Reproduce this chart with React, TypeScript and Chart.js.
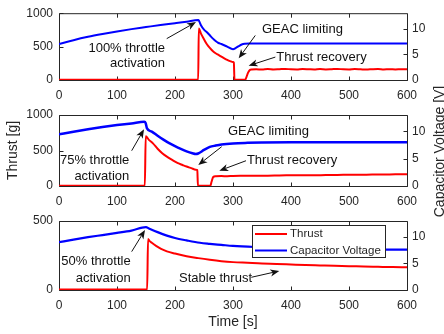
import React, { useEffect, useRef } from 'react';
import { Chart, registerables } from 'chart.js';

Chart.register(...registerables);

type Pt = [number, number];

// ---- axis ranges & labels ----
const TIME_RANGE: Pt = [0, 600];
const TIME_STEP = 100;
const VOLT_RANGE: Pt = [0, 13];
const VOLT_STEP = 5;
const THRUST_STEP = 500;
const SERIES_NAMES = ['Thrust', 'Capacitor Voltage'];
const X_TITLE = 'Time [s]';
const Y_TITLE = 'Thrust [g]';
const Y2_TITLE = 'Capacitor Voltage [V]';

// ---- 100 % throttle run: [time s, thrust g] / [time s, voltage V] ----
const thrust100: Pt[] = [
  [0, 4], [60, 4], [120, 5], [180, 4], [240, 5], [241, 772], [245, 690], [250, 610], [255, 535],
  [260, 480], [265, 435], [270, 400], [275, 375], [280, 350], [285, 325], [290, 302], [295, 283],
  [300, 268], [301.5, 262], [302.5, 3], [321, 3], [323, 40], [326, 110], [329, 150], [332, 158],
  [340, 160], [350, 157], [360, 163], [370, 158], [380, 162], [390, 166], [400, 160], [410, 158],
  [420, 164], [430, 161], [440, 157], [450, 163], [460, 159], [470, 162], [480, 166], [490, 160],
  [500, 158], [510, 163], [520, 160], [530, 157], [540, 162], [550, 165], [560, 159], [570, 161],
  [580, 158], [590, 162], [600, 160],
];
const volt100: Pt[] = [
  [0, 7.0], [25, 7.75], [50, 8.4], [75, 8.95], [100, 9.45], [125, 9.9], [150, 10.3], [175, 10.7],
  [200, 11.05], [220, 11.35], [240, 11.7], [241.5, 11.5], [245, 10.6], [250, 9.8], [255, 9.3],
  [260, 8.7], [265, 8.1], [270, 7.6], [275, 7.2], [280, 7.0], [290, 6.5], [300, 6.0], [305, 6.25],
  [310, 6.6], [315, 6.9], [320, 7.05], [330, 7.1], [360, 7.12], [400, 7.1], [450, 7.12],
  [500, 7.1], [550, 7.12], [600, 7.1],
];

// ---- 75 % throttle run ----
const thrust75: Pt[] = [
  [0, 3], [50, 4], [100, 3], [148, 4], [149.5, 700], [155, 650], [162, 600], [170, 525], [178, 462],
  [186, 413], [195, 368], [205, 322], [213, 296], [220, 274], [228, 252], [236, 230], [238.5, 224],
  [239.5, 3], [261, 3], [263, 60], [266, 128], [270, 136], [280, 140], [290, 138], [300, 142],
  [320, 143], [340, 146], [360, 145], [380, 149], [400, 150], [420, 152], [440, 151], [460, 155],
  [480, 156], [500, 158], [520, 159], [540, 161], [560, 162], [580, 164], [600, 165],
];
const volt75: Pt[] = [
  [0, 9.45], [25, 9.95], [50, 10.4], [75, 10.8], [100, 11.15], [125, 11.45], [147, 11.75],
  [149.5, 11.5], [151.5, 10.6], [160, 9.95], [170, 9.2], [180, 8.5], [190, 7.85], [200, 7.3],
  [210, 6.8], [220, 6.35], [230, 6.0], [236, 5.85], [240, 5.95], [250, 6.6], [260, 7.15],
  [270, 7.4], [280, 7.6], [300, 7.8], [325, 7.9], [350, 7.95], [400, 8.0], [450, 8.0],
  [500, 8.02], [550, 8.0], [600, 8.02],
];

// ---- 50 % throttle run ----
const thrust50: Pt[] = [
  [0, 3], [50, 4], [100, 4], [152, 4], [153.5, 370], [156, 356], [160, 342], [168, 318], [176, 298],
  [186, 280], [200, 264], [220, 245], [240, 231], [260, 219], [280, 209], [300, 202], [325, 197],
  [350, 192], [375, 189], [400, 185], [425, 181], [450, 178], [475, 175], [500, 173], [525, 170],
  [550, 168], [575, 166], [600, 165],
];
const volt50: Pt[] = [
  [0, 9.0], [25, 9.5], [50, 9.95], [75, 10.35], [100, 10.75], [125, 11.2], [150, 11.85],
  [155, 11.6], [170, 10.9], [186, 10.25], [200, 9.8], [220, 9.35], [243, 8.9], [260, 8.7],
  [280, 8.5], [300, 8.3], [350, 8.05], [400, 7.85], [450, 7.72], [500, 7.65], [550, 7.6], [600, 7.6],
];

// ---- callouts, placed in (time, thrust) coordinates ----
type Label = { text: string; at: Pt; align: CanvasTextAlign };
type Arrow = { from: Pt; to: Pt };

const labels100: Label[] = [
  { text: '100% throttle', at: [182.8, 476], align: 'right' },
  { text: 'activation', at: [182.8, 247], align: 'right' },
  { text: 'GEAC limiting', at: [350, 761], align: 'left' },
  { text: 'Thrust recovery', at: [374.7, 343], align: 'left' },
];
const arrows100: Arrow[] = [
  { from: [185.7, 619], to: [236.2, 867] },
  { from: [338.4, 667], to: [309.8, 324] },
  { from: [373, 343], to: [327, 214] },
];
const labels75: Label[] = [
  { text: '75% throttle', at: [121.2, 366], align: 'right' },
  { text: 'activation', at: [121.2, 131], align: 'right' },
  { text: 'GEAC limiting', at: [291.4, 765], align: 'left' },
  { text: 'Thrust recovery', at: [324, 366], align: 'left' },
];
const arrows75: Arrow[] = [
  { from: [125.3, 497], to: [146.6, 799] },
  { from: [280.5, 554], to: [240.2, 296] },
  { from: [322.4, 356], to: [276.4, 215] },
];
const labels50: Label[] = [
  { text: '50% throttle', at: [123.6, 205], align: 'right' },
  { text: 'activation', at: [123.6, 85], align: 'right' },
  { text: 'Stable thrust', at: [206.9, 85], align: 'left' },
];
const arrows50: Arrow[] = [
  { from: [125.3, 278], to: [148.3, 435] },
  { from: [331.6, 92], to: [379.8, 138] },
];

// ---- look ----
const W = 444;
const H = 334;
const FONT = "'Liberation Sans', Arial, Helvetica, sans-serif";
const INK = '#262626';
const RED = '#ff0000';
const BLUE = '#0000ff';
const PLOT_LEFT = 59;
const PLOT_RIGHT = 407;

type Panel = {
  thrust: Pt[];
  volt: Pt[];
  thrustMax: number;
  top: number;
  bottom: number;
  labels: Label[];
  arrows: Arrow[];
  yTitle?: boolean;
  xTitle?: boolean;
  legend?: boolean;
  voltWidth: number;
};

const panels: Panel[] = [
  { thrust: thrust100, volt: volt100, thrustMax: 1000, top: 10, bottom: 80, labels: labels100, arrows: arrows100, voltWidth: 2 },
  { thrust: thrust75, volt: volt75, thrustMax: 1000, top: 115, bottom: 186, labels: labels75, arrows: arrows75, yTitle: true, voltWidth: 2.5 },
  { thrust: thrust50, volt: volt50, thrustMax: 500, top: 221, bottom: 290, labels: labels50, arrows: arrows50, xTitle: true, legend: true, voltWidth: 2.2 },
];

const toXY = (pts: Pt[]) => pts.map(([x, y]) => ({ x, y }));
const plainNumber = (v: any) => String(v);

function drawArrow(ctx: CanvasRenderingContext2D, x1: number, y1: number, x2: number, y2: number) {
  const dx = x2 - x1;
  const dy = y2 - y1;
  const len = Math.hypot(dx, dy) || 1;
  const ux = dx / len;
  const uy = dy / len;
  const nx = -uy;
  const ny = ux;
  const headLen = 9;
  const headHalf = 3.6;
  const notch = 6.5;
  ctx.beginPath();
  ctx.moveTo(x1, y1);
  ctx.lineTo(x2 - ux * notch, y2 - uy * notch);
  ctx.stroke();
  ctx.beginPath();
  ctx.moveTo(x2, y2);
  ctx.lineTo(x2 - ux * headLen + nx * headHalf, y2 - uy * headLen + ny * headHalf);
  ctx.lineTo(x2 - ux * notch, y2 - uy * notch);
  ctx.lineTo(x2 - ux * headLen - nx * headHalf, y2 - uy * headLen - ny * headHalf);
  ctx.closePath();
  ctx.fill();
}

// Box frame with inward ticks on all four sides, drawn under the data lines.
const frameTicks = {
  id: 'frameTicks',
  beforeDatasetsDraw(chart: any) {
    const { ctx, chartArea: a, scales } = chart;
    const L = a.left + 0.5;
    const R = a.right + 0.5;
    const T = a.top + 0.5;
    const B = a.bottom + 0.5;
    const len = 4;
    ctx.save();
    ctx.strokeStyle = INK;
    ctx.lineWidth = 1;
    ctx.beginPath();
    ctx.rect(L, T, R - L, B - T);
    scales.x.ticks.forEach((t: any) => {
      const px = Math.round(scales.x.getPixelForValue(t.value)) + 0.5;
      ctx.moveTo(px, B);
      ctx.lineTo(px, B - len);
      ctx.moveTo(px, T);
      ctx.lineTo(px, T + len);
    });
    scales.y.ticks.forEach((t: any) => {
      const py = Math.round(scales.y.getPixelForValue(t.value)) + 0.5;
      ctx.moveTo(L, py);
      ctx.lineTo(L + len, py);
    });
    scales.y1.ticks.forEach((t: any) => {
      const py = Math.round(scales.y1.getPixelForValue(t.value)) + 0.5;
      ctx.moveTo(R, py);
      ctx.lineTo(R - len, py);
    });
    ctx.stroke();
    ctx.restore();
  },
};

function makeOverlay(panel: Panel) {
  return {
    id: 'overlay',
    afterDraw(chart: any) {
      const { ctx, chartArea: a, scales } = chart;
      const sx = (v: number) => scales.x.getPixelForValue(v);
      const sy = (v: number) => scales.y.getPixelForValue(v);
      ctx.save();
      // callouts
      ctx.fillStyle = '#111';
      ctx.strokeStyle = '#111';
      ctx.lineWidth = 1;
      ctx.font = `13px ${FONT}`;
      ctx.textBaseline = 'middle';
      panel.labels.forEach((l) => {
        ctx.textAlign = l.align;
        ctx.fillText(l.text, sx(l.at[0]), sy(l.at[1]));
      });
      panel.arrows.forEach((ar) => {
        drawArrow(ctx, sx(ar.from[0]), sy(ar.from[1]), sx(ar.to[0]), sy(ar.to[1]));
      });
      // boxed legend in the upper right of the plot
      if (panel.legend) {
        const bw = 133;
        const bh = 32;
        const bx = a.right - 22 - bw;
        const by = a.top + 4;
        ctx.fillStyle = '#ffffff';
        ctx.fillRect(bx, by, bw, bh);
        ctx.strokeStyle = INK;
        ctx.lineWidth = 1;
        ctx.strokeRect(Math.round(bx) + 0.5, Math.round(by) + 0.5, bw, bh);
        const colors = [RED, BLUE];
        ctx.font = `11.5px ${FONT}`;
        ctx.textAlign = 'left';
        SERIES_NAMES.forEach((name, i) => {
          const yy = by + 9 + i * 16.5;
          ctx.strokeStyle = colors[i];
          ctx.lineWidth = 2;
          ctx.beginPath();
          ctx.moveTo(bx + 3, yy);
          ctx.lineTo(bx + 35, yy);
          ctx.stroke();
          ctx.fillStyle = INK;
          ctx.fillText(name, bx + 38, yy);
        });
      }
      // right-hand axis title, reading bottom to top
      if (panel.yTitle) {
        ctx.fillStyle = INK;
        ctx.font = `14px ${FONT}`;
        ctx.textAlign = 'center';
        ctx.textBaseline = 'alphabetic';
        ctx.translate(443.5, (a.top + a.bottom) / 2 + 1);
        ctx.rotate(-Math.PI / 2);
        ctx.fillText(Y2_TITLE, 0, 0);
      }
      ctx.restore();
    },
  };
}

function buildChart(canvas: HTMLCanvasElement, panel: Panel) {
  const padLeft = panel.yTitle ? 5 : 0;
  const xBottom = panel.xTitle ? 330.4 : panel.bottom + 30;
  const xHeight = xBottom - panel.bottom;
  const tickFont = { family: FONT, size: 12 };
  return new Chart(canvas, {
    type: 'line',
    data: {
      datasets: [
        {
          label: SERIES_NAMES[0],
          data: toXY(panel.thrust),
          yAxisID: 'y',
          borderColor: RED,
          backgroundColor: RED,
          borderWidth: 2,
          pointRadius: 0,
          cubicInterpolationMode: 'monotone',
          fill: false,
        },
        {
          label: SERIES_NAMES[1],
          data: toXY(panel.volt),
          yAxisID: 'y1',
          borderColor: BLUE,
          backgroundColor: BLUE,
          borderWidth: panel.voltWidth,
          pointRadius: 0,
          cubicInterpolationMode: 'monotone',
          fill: false,
        },
      ],
    },
    options: {
      responsive: false,
      animation: false,
      devicePixelRatio: 1,
      events: [],
      layout: {
        padding: { top: panel.top, bottom: H - xBottom, left: padLeft, right: 0 },
      },
      plugins: {
        legend: { display: false },
        tooltip: { enabled: false },
      },
      scales: {
        x: {
          type: 'linear',
          position: 'bottom',
          min: TIME_RANGE[0],
          max: TIME_RANGE[1],
          grid: { display: false, drawTicks: false },
          border: { display: false },
          ticks: { stepSize: TIME_STEP, padding: 8, color: INK, font: tickFont, maxRotation: 0, autoSkip: false, callback: plainNumber },
          title: {
            display: !!panel.xTitle,
            text: X_TITLE,
            color: INK,
            padding: 0,
            font: { family: FONT, size: 14 },
          },
          afterFit: (s: any) => {
            s.height = xHeight;
          },
        },
        y: {
          type: 'linear',
          position: 'left',
          min: 0,
          max: panel.thrustMax,
          grid: { display: false, drawTicks: false },
          border: { display: false },
          ticks: { stepSize: THRUST_STEP, padding: 6, color: INK, font: tickFont, callback: plainNumber },
          title: {
            display: !!panel.yTitle,
            text: Y_TITLE,
            color: INK,
            padding: 0,
            font: { family: FONT, size: 14 },
          },
          afterFit: (s: any) => {
            s.width = PLOT_LEFT - padLeft;
          },
        },
        y1: {
          type: 'linear',
          position: 'right',
          min: VOLT_RANGE[0],
          max: VOLT_RANGE[1],
          grid: { display: false, drawTicks: false },
          border: { display: false },
          ticks: { stepSize: VOLT_STEP, includeBounds: false, padding: 5, color: INK, font: tickFont, callback: plainNumber },
          afterFit: (s: any) => {
            s.width = W - PLOT_RIGHT;
          },
        },
      },
    } as any,
    plugins: [frameTicks, makeOverlay(panel)],
  });
}

export default function App() {
  const c1 = useRef<HTMLCanvasElement>(null);
  const c2 = useRef<HTMLCanvasElement>(null);
  const c3 = useRef<HTMLCanvasElement>(null);

  useEffect(() => {
    const refs = [c1, c2, c3];
    const charts = panels.map((p, i) => buildChart(refs[i].current as HTMLCanvasElement, p));
    return () => charts.forEach((c) => c.destroy());
  }, []);

  const canvasStyle: React.CSSProperties = { position: 'absolute', left: 0, top: 0, width: W, height: H };

  return (
    <div style={{ position: 'fixed', left: 0, top: 0, width: W, height: H, background: '#ffffff', overflow: 'hidden' }}>
      <canvas ref={c1} width={W} height={H} style={canvasStyle} />
      <canvas ref={c2} width={W} height={H} style={canvasStyle} />
      <canvas ref={c3} width={W} height={H} style={canvasStyle} />
    </div>
  );
}
